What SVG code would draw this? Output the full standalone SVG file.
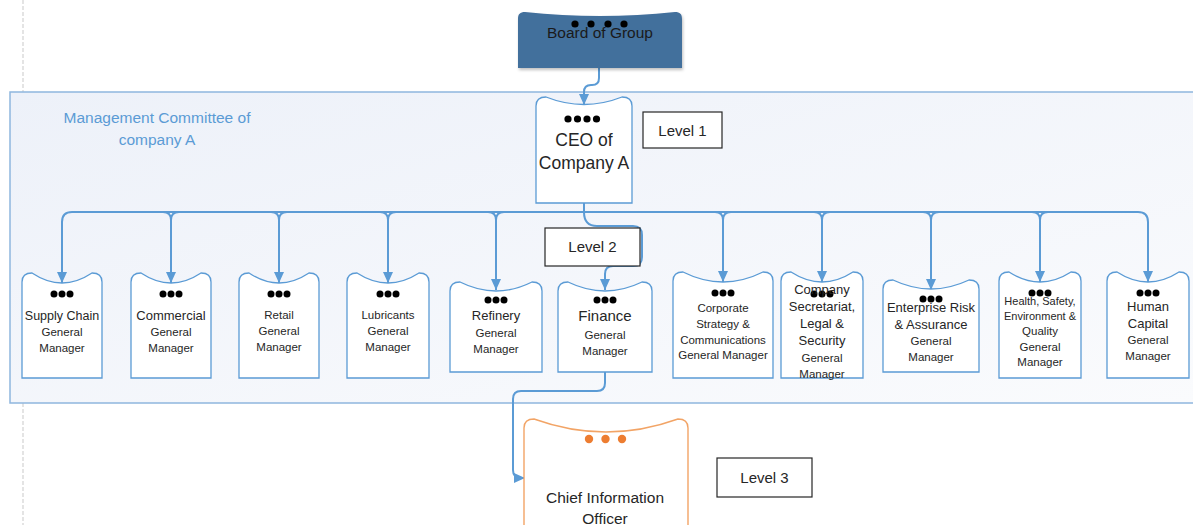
<svg xmlns="http://www.w3.org/2000/svg" width="1193" height="525" viewBox="0 0 1193 525">
  <defs>
    <linearGradient id="panelFill" x1="0" y1="0" x2="1" y2="1">
      <stop offset="0" stop-color="#edf1f9"/>
      <stop offset="1" stop-color="#fafbfd"/>
    </linearGradient>
    <marker id="arrow" markerUnits="userSpaceOnUse" markerWidth="11" markerHeight="10" refX="11" refY="5" orient="auto">
      <path d="M0,0 L11,5 L0,10 z" fill="#5b9bd5"/>
    </marker>
    <filter id="shadow" x="-10%" y="-10%" width="130%" height="140%">
      <feDropShadow dx="1" dy="2" stdDeviation="1.5" flood-color="#000" flood-opacity="0.25"/>
    </filter>
  </defs>
  <style>
    .card { fill: #ffffff; stroke: #5b9bd5; stroke-width: 1.3; }
    .link { fill: none; stroke: #5b9bd5; stroke-width: 2; }
    .tag { fill: #ffffff; stroke: #262626; stroke-width: 1.2; }
    .dot { fill: #000000; }
    text { font-family: "Liberation Sans", Arial, sans-serif; fill: #262626; text-anchor: middle; }
    .t13 { font-size: 13px; }
    .t12 { font-size: 11.5px; }
    .lvl { font-size: 15px; }
  </style>

  <rect width="1193" height="525" fill="#ffffff"/>

  <!-- page margin guide -->
  <line x1="23" y1="0" x2="23" y2="92" stroke="#dcdcdc" stroke-width="1.5" stroke-dasharray="4 2"/>
  <line x1="23" y1="403" x2="23" y2="525" stroke="#dcdcdc" stroke-width="1.5" stroke-dasharray="4 2"/>

  <!-- management committee panel -->
  <g id="committee">
    <rect x="10" y="92" width="1190" height="311" fill="url(#panelFill)" stroke="#8fb6de" stroke-width="1.5"/>
    <text x="157" y="123" style="font-size:15.5px; fill:#5b9bd5">Management Committee of</text>
    <text x="157" y="145" style="font-size:15.5px; fill:#5b9bd5">company A</text>
  </g>

  <!-- connectors -->
  <g id="connectors">
    <path class="link" d="M599,68 L599,78 Q599,85 592,85 L591,85 Q584,85 584,92 L584,105" marker-end="url(#arrow)"/>
    <path class="link" d="M584,203 L584,212"/>
    <path class="link" d="M584,212 L72,212 Q62,212 62,222 L62,283" marker-end="url(#arrow)"/>
    <path class="link" d="M584,212 L1138,212 Q1148,212 1148,222 L1148,282" marker-end="url(#arrow)"/>
    <path class="link" d="M163,212 Q171,212 171,220 Q171,212 179,212 M171,218 L171,283" marker-end="url(#arrow)"/>
    <path class="link" d="M271,212 Q279,212 279,220 Q279,212 287,212 M279,218 L279,283" marker-end="url(#arrow)"/>
    <path class="link" d="M380,212 Q388,212 388,220 Q388,212 396,212 M388,218 L388,283" marker-end="url(#arrow)"/>
    <path class="link" d="M488,212 Q496,212 496,220 Q496,212 504,212 M496,218 L496,290" marker-end="url(#arrow)"/>
    <path class="link" d="M715,212 Q723,212 723,220 Q723,212 731,212 M723,218 L723,282" marker-end="url(#arrow)"/>
    <path class="link" d="M814,212 Q822,212 822,220 Q822,212 830,212 M822,218 L822,282" marker-end="url(#arrow)"/>
    <path class="link" d="M923,212 Q931,212 931,220 Q931,212 939,212 M931,218 L931,290" marker-end="url(#arrow)"/>
    <path class="link" d="M1032,212 Q1040,212 1040,220 Q1040,212 1048,212 M1040,218 L1040,282" marker-end="url(#arrow)"/>
    <!-- CEO to Finance, routed around the Level 2 tag -->
    <path class="link" d="M584,212 Q584,226 597,226 L633,226 Q642,226 642,235 L642,257 Q642,266 633,266 L613,266 Q605,266 605,274 L605,290" marker-end="url(#arrow)"/>
    <!-- Finance to CIO -->
    <path class="link" d="M605,372 L605,383 Q605,391 597,391 L521,391 Q513,391 513,399 L513,470 Q513,478 521,478 L525,478" marker-end="url(#arrow)"/>
  </g>

  <!-- level 0 -->
  <g id="board">
    <path d="M518,68 L518,19 C518,14 520,12 525,12 Q600,20 675,12 C680,12 682,14 682,19 L682,68 Z" fill="#436f9c" filter="url(#shadow)"/>
    <circle class="dot" cx="575" cy="24" r="3.6"/>
    <circle class="dot" cx="591" cy="24" r="3.6"/>
    <circle class="dot" cx="608" cy="24" r="3.6"/>
    <circle class="dot" cx="624" cy="24" r="3.6"/>
    <text x="600" y="38" style="font-size:15.5px; fill:#1a1a1a">Board of Group</text>
  </g>

  <!-- level 1 -->
  <g id="ceo">
    <path class="card" d="M536,203 L536,106 C536,100 539,97 546,97 Q584,112 622,97 C629,97 632,100 632,106 L632,203 Z"/>
    <circle class="dot" cx="568" cy="119" r="3.6"/>
    <circle class="dot" cx="577.5" cy="119" r="3.6"/>
    <circle class="dot" cx="587" cy="119" r="3.6"/>
    <circle class="dot" cx="596.5" cy="119" r="3.6"/>
    <text x="584" y="146" style="font-size:17.5px">CEO of</text>
    <text x="584" y="169" style="font-size:17.5px">Company A</text>
  </g>
  <g id="level1">
    <rect class="tag" x="643" y="112" width="79" height="36"/>
    <text class="lvl" x="682.5" y="136">Level 1</text>
  </g>
  <g id="level2">
    <rect class="tag" x="545" y="228" width="95" height="38"/>
    <text class="lvl" x="592.5" y="252">Level 2</text>
  </g>

  <!-- level 2 general managers -->
  <g id="supply-chain">
    <path class="card" d="M22,378 L22,282 C22,276 25,273 32,273 Q62,293 92,273 C99,273 102,276 102,282 L102,378 Z"/>
    <circle class="dot" cx="54" cy="294" r="3.5"/><circle class="dot" cx="62" cy="294" r="3.5"/><circle class="dot" cx="70" cy="294" r="3.5"/>
    <text class="t13" x="62" y="320" style="font-size:12.5px">Supply Chain</text>
    <text class="t12" x="62" y="336">General</text>
    <text class="t12" x="62" y="352">Manager</text>
  </g>
  <g id="commercial">
    <path class="card" d="M131,378 L131,282 C131,276 134,273 141,273 Q171,293 201,273 C208,273 211,276 211,282 L211,378 Z"/>
    <circle class="dot" cx="163" cy="294" r="3.5"/><circle class="dot" cx="171" cy="294" r="3.5"/><circle class="dot" cx="179" cy="294" r="3.5"/>
    <text class="t13" x="171" y="320">Commercial</text>
    <text class="t12" x="171" y="336">General</text>
    <text class="t12" x="171" y="352">Manager</text>
  </g>
  <g id="retail">
    <path class="card" d="M239,378 L239,282 C239,276 242,273 249,273 Q279,293 309,273 C316,273 319,276 319,282 L319,378 Z"/>
    <circle class="dot" cx="271" cy="294" r="3.5"/><circle class="dot" cx="279" cy="294" r="3.5"/><circle class="dot" cx="287" cy="294" r="3.5"/>
    <text class="t12" x="279" y="319">Retail</text>
    <text class="t12" x="279" y="335">General</text>
    <text class="t12" x="279" y="351">Manager</text>
  </g>
  <g id="lubricants">
    <path class="card" d="M347,378 L347,282 C347,276 350,273 357,273 Q388,293 419,273 C426,273 429,276 429,282 L429,378 Z"/>
    <circle class="dot" cx="380" cy="294" r="3.5"/><circle class="dot" cx="388" cy="294" r="3.5"/><circle class="dot" cx="396" cy="294" r="3.5"/>
    <text class="t12" x="388" y="319">Lubricants</text>
    <text class="t12" x="388" y="335">General</text>
    <text class="t12" x="388" y="351">Manager</text>
  </g>
  <g id="refinery">
    <path class="card" d="M450,372 L450,291 C450,285 453,282 460,282 Q496,300 532,282 C539,282 542,285 542,291 L542,372 Z"/>
    <circle class="dot" cx="488" cy="300" r="3.5"/><circle class="dot" cx="496" cy="300" r="3.5"/><circle class="dot" cx="504" cy="300" r="3.5"/>
    <text class="t13" x="496" y="320">Refinery</text>
    <text class="t12" x="496" y="337">General</text>
    <text class="t12" x="496" y="353">Manager</text>
  </g>
  <g id="finance">
    <path class="card" d="M558,372 L558,291 C558,285 561,282 568,282 Q605,300 642,282 C649,282 652,285 652,291 L652,372 Z"/>
    <circle class="dot" cx="597" cy="300" r="3.5"/><circle class="dot" cx="605" cy="300" r="3.5"/><circle class="dot" cx="613" cy="300" r="3.5"/>
    <text x="605" y="321" style="font-size:15px">Finance</text>
    <text class="t12" x="605" y="339">General</text>
    <text class="t12" x="605" y="355">Manager</text>
  </g>
  <g id="corporate-strategy">
    <path class="card" d="M673,378 L673,281 C673,275 676,272 683,272 Q723,292 763,272 C770,272 773,275 773,281 L773,378 Z"/>
    <circle class="dot" cx="715" cy="293" r="3.5"/><circle class="dot" cx="723" cy="293" r="3.5"/><circle class="dot" cx="731" cy="293" r="3.5"/>
    <text class="t12" x="723" y="312">Corporate</text>
    <text class="t12" x="723" y="328">Strategy &amp;</text>
    <text class="t12" x="723" y="344">Communications</text>
    <text class="t12" x="723" y="359">General Manager</text>
  </g>
  <g id="company-secretariat">
    <path class="card" d="M781,378 L781,281 C781,275 784,272 791,272 Q822,292 853,272 C860,272 863,275 863,281 L863,378 Z"/>
    <circle class="dot" cx="814" cy="294" r="3.5"/><circle class="dot" cx="822" cy="294" r="3.5"/><circle class="dot" cx="830" cy="294" r="3.5"/>
    <text class="t13" x="822" y="294">Company</text>
    <text class="t13" x="822" y="311">Secretariat,</text>
    <text class="t13" x="822" y="328">Legal &amp;</text>
    <text class="t13" x="822" y="345">Security</text>
    <text class="t12" x="822" y="362">General</text>
    <text class="t12" x="822" y="378">Manager</text>
  </g>
  <g id="enterprise-risk">
    <path class="card" d="M883,372 L883,289 C883,283 886,280 893,280 Q931,298 969,280 C976,280 979,283 979,289 L979,372 Z"/>
    <circle class="dot" cx="923" cy="299" r="3.5"/><circle class="dot" cx="931" cy="299" r="3.5"/><circle class="dot" cx="939" cy="299" r="3.5"/>
    <text class="t13" x="931" y="312">Enterprise Risk</text>
    <text class="t13" x="931" y="329">&amp; Assurance</text>
    <text class="t12" x="931" y="345">General</text>
    <text class="t12" x="931" y="361">Manager</text>
  </g>
  <g id="hseq">
    <path class="card" d="M999,378 L999,281 C999,275 1002,272 1009,272 Q1040,292 1071,272 C1078,272 1081,275 1081,281 L1081,378 Z"/>
    <circle class="dot" cx="1032" cy="293" r="3.5"/><circle class="dot" cx="1040" cy="293" r="3.5"/><circle class="dot" cx="1048" cy="293" r="3.5"/>
    <text class="t12" x="1040" y="305" style="font-size:11px">Health, Safety,</text>
    <text class="t12" x="1040" y="320" style="font-size:11px">Environment &amp;</text>
    <text class="t12" x="1040" y="335">Quality</text>
    <text class="t12" x="1040" y="351">General</text>
    <text class="t12" x="1040" y="366">Manager</text>
  </g>
  <g id="human-capital">
    <path class="card" d="M1107,378 L1107,281 C1107,275 1110,272 1117,272 Q1148,292 1179,272 C1186,272 1189,275 1189,281 L1189,378 Z"/>
    <circle class="dot" cx="1140" cy="293" r="3.5"/><circle class="dot" cx="1148" cy="293" r="3.5"/><circle class="dot" cx="1156" cy="293" r="3.5"/>
    <text class="t13" x="1148" y="311">Human</text>
    <text class="t13" x="1148" y="328">Capital</text>
    <text class="t12" x="1148" y="344">General</text>
    <text class="t12" x="1148" y="360">Manager</text>
  </g>

  <!-- level 3 -->
  <g id="cio">
    <path d="M524,540 L524,428 C524,422 527,419 534,419 Q606,445 678,419 C685,419 688,422 688,428 L688,540 Z" fill="#ffffff" stroke="#f2a466" stroke-width="1.4"/>
    <circle cx="589" cy="439" r="4.2" fill="#ed7d31"/>
    <circle cx="605.5" cy="439" r="4.2" fill="#ed7d31"/>
    <circle cx="622" cy="439" r="4.2" fill="#ed7d31"/>
    <text x="605" y="503" style="font-size:15.5px">Chief Information</text>
    <text x="605" y="524" style="font-size:15.5px">Officer</text>
  </g>
  <g id="level3">
    <rect class="tag" x="717" y="458" width="95" height="39"/>
    <text class="lvl" x="764.5" y="483">Level 3</text>
  </g>
</svg>
